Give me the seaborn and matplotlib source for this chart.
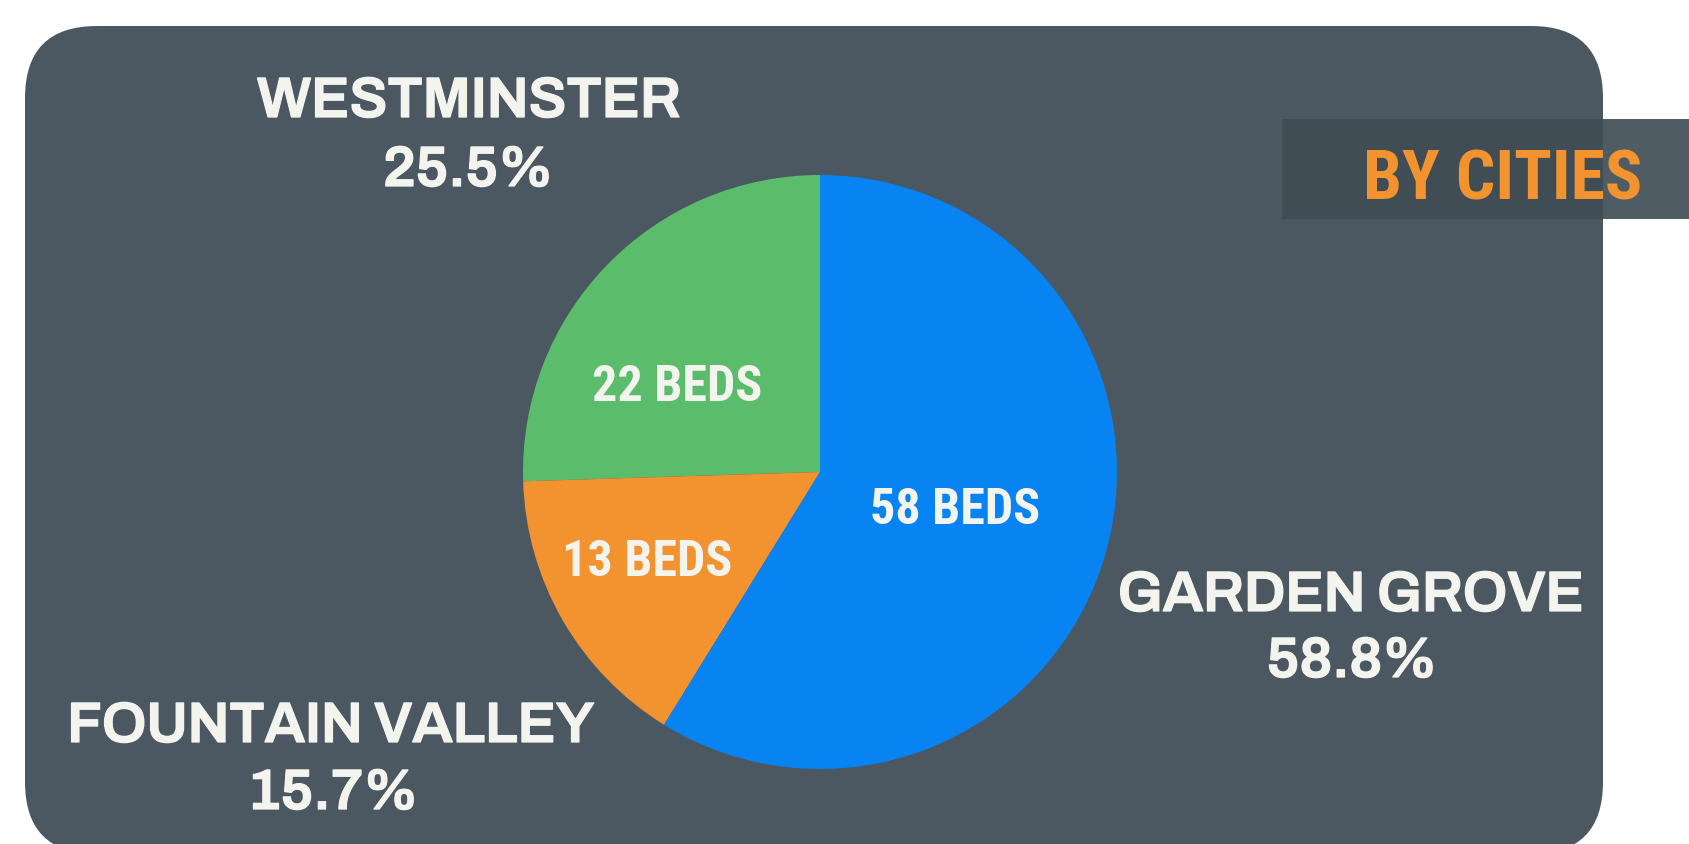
import matplotlib
matplotlib.use("Agg")
import matplotlib.pyplot as plt
import matplotlib.patheffects as pe
from matplotlib.patches import FancyBboxPatch, Rectangle
import seaborn as sns

# data
cities = ["WESTMINSTER", "FOUNTAIN VALLEY", "GARDEN GROVE"]
shares = [25.5, 15.7, 58.8]
beds = [22, 13, 58]
colors = ["#5BBD6C", "#F39330", "#0784F2"]

sns.set_theme(style="white")
plt.rcParams["font.family"] = ["DejaVu Sans"]

W, H = 1689, 845
fig = plt.figure(figsize=(W / 100, H / 100), dpi=100)
fig.patch.set_facecolor("white")
ax = fig.add_axes([0, 0, 1, 1])

panel = "#4B5861"
txt = "#F4F4EF"
narrow = ["Roboto Condensed", "DejaVu Sans"]
wide = ["Archivo", "DejaVu Sans"]
heavy = [pe.withStroke(linewidth=0.9, foreground=txt)]

# rounded background panel
ax.add_patch(FancyBboxPatch((25, -10), 1578, 828,
                            boxstyle="round,pad=0,rounding_size=72",
                            fc=panel, ec="none", zorder=0))

# "BY CITIES" tag
ax.add_patch(Rectangle((1282, 625), 420, 100, fc="#3F4C54", ec="none",
                       alpha=0.91, zorder=1))
ax.text(1503, 645, "BY CITIES", color="#F39330", fontsize=50,
        fontweight="bold", family=narrow, ha="center", va="baseline", zorder=2)

# pie
wedges, _ = ax.pie(shares, colors=colors, startangle=90, counterclock=True,
                   center=(820, 372), radius=297,
                   wedgeprops=dict(linewidth=0), frame=True)
ax.set_xlim(0, W)
ax.set_ylim(0, H)
ax.set_aspect("equal")
ax.axis("off")

# bed counts inside wedges
bed_pos = [(677, 457), (647, 283), (955, 335)]
for n, (x, y) in zip(beds, bed_pos):
    ax.text(x, y, f"{n} BEDS", color=txt, fontsize=36, fontweight="bold",
            family=narrow, ha="center", va="center", zorder=3)

# city names with shares
name_pos = [(469, 727), (331, 102), (1351, 233)]
pct_pos = [(468, 658), (333, 35), (1352, 167)]
for c, s, (nx, ny), (px, py) in zip(cities, shares, name_pos, pct_pos):
    ax.text(nx, ny, c, color=txt, fontsize=41, fontweight="semibold",
            family=wide, ha="center", va="baseline", zorder=3,
            path_effects=heavy)
    ax.text(px, py, f"{s}%", color=txt, fontsize=41, fontweight="semibold",
            family=wide, ha="center", va="baseline", zorder=3,
            path_effects=heavy)

fig.savefig("out.png", dpi=100, facecolor="white")
